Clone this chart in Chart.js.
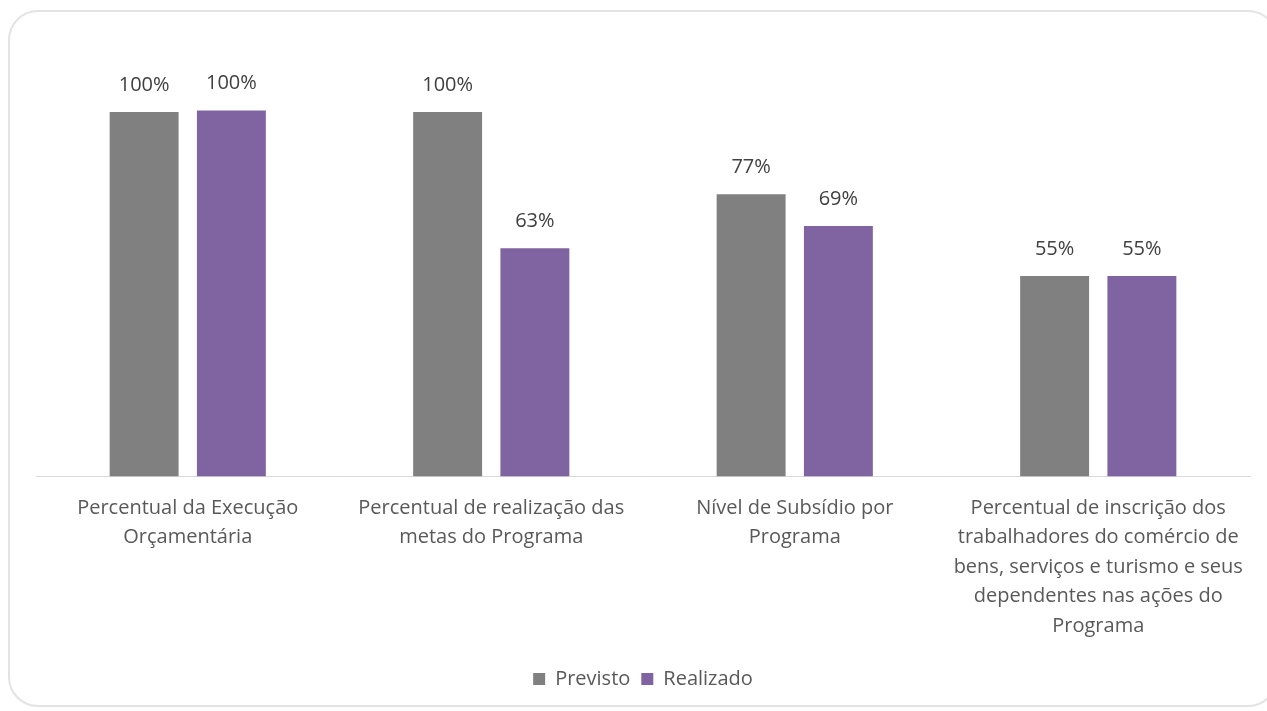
<!DOCTYPE html>
<html>
<head>
<meta charset="utf-8">
<script src="https://cdn.jsdelivr.net/npm/chart.js@4"></script>
<style>
    html, body { margin: 0; padding: 0; background: #fff; }
    .card {
        position: absolute; left: 8px; top: 10px; width: 1270px; height: 697px;
        border: 2px solid #e3e3e3; border-radius: 30px; box-sizing: border-box; background: #fff;
    }
    .card canvas { display: block; }
</style>
</head>
<body>
<div class="card"><canvas id="chart" width="1266" height="693"></canvas></div>
<script>
const categories = [
    ['Percentual da Execução', 'Orçamentária'],
    ['Percentual de realização das', 'metas do Programa'],
    ['Nível de Subsídio por', 'Programa'],
    ['Percentual de inscrição dos', 'trabalhadores do comércio de', 'bens, serviços e turismo e seus', 'dependentes nas ações do', 'Programa']
];
const previsto = [100, 100, 77.4, 55];
const realizado = [100.4, 62.6, 68.7, 55];

const FONT = '"Open Sans", "Liberation Sans", sans-serif';

const barLabels = {
    id: 'barLabels',
    afterDatasetsDraw(chart) {
        const ctx = chart.ctx;
        ctx.save();
        ctx.font = '20px ' + FONT;
        ctx.fillStyle = '#404040';
        ctx.textAlign = 'center';
        ctx.textBaseline = 'middle';
        chart.data.datasets.forEach((ds, i) => {
            chart.getDatasetMeta(i).data.forEach((bar, j) => {
                ctx.fillText(Math.round(ds.data[j]) + '%', bar.x, bar.y - 27);
            });
        });
        ctx.restore();
    }
};

new Chart(document.getElementById('chart').getContext('2d'), {
    type: 'bar',
    data: {
        labels: categories,
        datasets: [
            { label: 'Previsto', data: previsto, backgroundColor: '#808080', categoryPercentage: 0.575, barPercentage: 0.79 },
            { label: 'Realizado', data: realizado, backgroundColor: '#8064a2', categoryPercentage: 0.575, barPercentage: 0.79 }
        ]
    },
    options: {
        responsive: false, animation: false,
        layout: { padding: { left: 26, right: 26, top: 27, bottom: 6 } },
        plugins: {
            legend: {
                position: 'bottom',
                labels: { boxWidth: 12, boxHeight: 12, padding: 11, color: '#595959', font: { family: FONT, size: 20 } }
            },
            tooltip: { enabled: false }
        },
        scales: {
            y: { min: 0, max: 120, display: false },
            x: {
                grid: { display: false, drawTicks: false },
                border: { color: '#d9d9d9', width: 1 },
                ticks: { color: '#595959', padding: 17, maxRotation: 0, autoSkip: false, font: { family: FONT, size: 20, lineHeight: 1.475 } }
            }
        }
    },
    plugins: [barLabels]
});
</script>
</body>
</html>
